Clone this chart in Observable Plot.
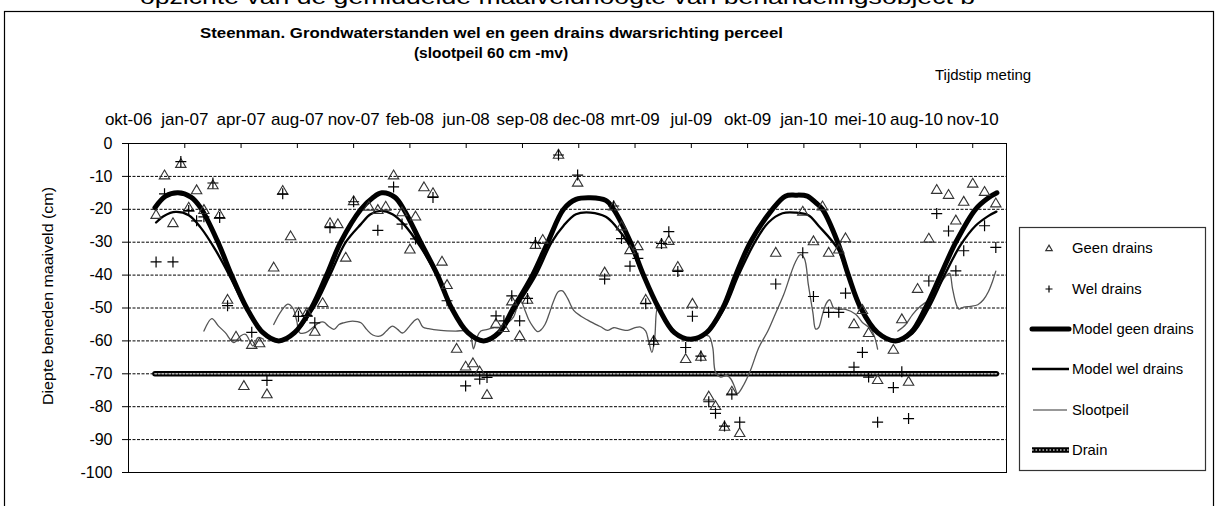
<!DOCTYPE html>
<html><head><meta charset="utf-8">
<script src="https://cdn.jsdelivr.net/npm/d3@7"></script>
<script src="https://cdn.jsdelivr.net/npm/@observablehq/plot@0.6"></script>
<style>
html,body{margin:0;padding:0;background:#fff;overflow:hidden;}
#wrap{position:relative;width:1219px;height:506px;font-family:"Liberation Sans",Arial,sans-serif;}
#wrap svg{position:absolute;left:0;top:0;}
</style></head><body><div id="wrap"></div>
<script>
// ---------- data ----------
const xDomain = ["2006-10-10", "2011-01-17"];
const tickDates = ["2006-10-10","2007-01-18","2007-04-28","2007-08-06","2007-11-14","2008-02-22","2008-06-01","2008-09-09","2008-12-18","2009-03-28","2009-07-06","2009-10-14","2010-01-22","2010-05-02","2010-08-10","2010-11-18"];
const tickLabels = ["okt-06","jan-07","apr-07","aug-07","nov-07","feb-08","jun-08","sep-08","dec-08","mrt-09","jul-09","okt-09","jan-10","mei-10","aug-10","nov-10"];
const yTicks = [0,-10,-20,-30,-40,-50,-60,-70,-80,-90,-100];
const gridValues = [-10,-20,-30,-40,-50,-60,-70,-80,-90];

const obsDates = ["2006-11-28","2006-12-13","2006-12-28","2007-01-11","2007-01-25","2007-02-08","2007-02-21","2007-03-09","2007-03-21","2007-04-04","2007-04-19","2007-05-03","2007-05-17","2007-05-31","2007-06-13","2007-06-25","2007-07-11","2007-07-25","2007-08-08","2007-08-23","2007-09-06","2007-09-20","2007-10-03","2007-10-17","2007-10-31","2007-11-14","2007-12-11","2007-12-27","2008-01-10","2008-01-24","2008-02-08","2008-02-22","2008-03-03","2008-03-18","2008-04-03","2008-04-19","2008-04-28","2008-05-15","2008-05-31","2008-06-13","2008-06-25","2008-07-08","2008-07-24","2008-08-07","2008-08-21","2008-09-04","2008-09-18","2008-10-02","2008-10-15","2008-11-12","2008-12-16","2009-02-02","2009-02-18","2009-03-04","2009-03-19","2009-04-02","2009-04-16","2009-04-30","2009-05-14","2009-05-27","2009-06-12","2009-06-26","2009-07-08","2009-07-23","2009-08-06","2009-08-18","2009-09-03","2009-09-16","2009-09-30","2009-12-03","2010-01-20","2010-02-08","2010-02-24","2010-03-07","2010-03-25","2010-04-06","2010-04-21","2010-05-06","2010-05-17","2010-06-02","2010-06-30","2010-07-15","2010-07-27","2010-08-12","2010-09-01","2010-09-15","2010-10-06","2010-10-19","2010-11-02","2010-11-18","2010-12-09","2010-12-29"];
const geenDrains = [-21.5,-9.5,-24,-6,-19.3,-14,-20,-12.5,-21.5,-47.3,-58.5,-73.5,-61,-60.5,-76,-37.5,-14.2,-28,-51.3,-51.3,-57,-48.3,-24,-24.3,-34.5,-17.3,-19,-20,-19,-9.5,-20.7,-32,-22,-13.1,-14.9,-35.7,-42.8,-62.2,-67.6,-66.6,-69.1,-76.2,-54.6,-55.9,-47.8,-58.3,-47.3,-30.6,-29.1,-3.2,-11.7,-39,-18.9,-25,-32.2,-31,-47.3,-59.8,-30.4,-29.4,-37.3,-65.3,-48.5,-64.6,-76.7,-79.6,-85.9,-75.2,-87.8,-33,-20.5,-29.5,-18.9,-33,-32,-28.6,-54.7,-50.4,-57.4,-71.7,-62.5,-53.2,-72.2,-44,-28.7,-13.9,-15.4,-23.2,-17.5,-12,-14.5,-18];
const welDrains = [-36,-15.3,-36,-5.5,-20.4,-23.5,-22.3,-12,-22.5,-49.3,null,null,-57.4,null,-72,null,-15.3,null,-52.5,-52.3,-54.5,null,-25.6,null,null,-17.7,null,-26.4,null,-13.2,-24.5,null,-29,null,-16.4,null,-47.8,null,-73.7,null,-71.6,-71.1,-52.4,-53.9,-46.3,-53.9,-47.1,-30.1,null,-3.5,-9.6,-41.2,-19,-28.9,-37.3,-34.9,-48.7,-60,-30.4,-26.8,-38.9,-62,-52.5,-64.6,-78.5,-82,-85.9,-76.2,-84.7,-42.7,-33.2,-46.5,null,-51.3,-51.3,-45.5,-68,-63.5,-71,-84.7,-74.2,-69.4,-83.6,null,-41.8,-21.3,-26.6,-38.7,-32.6,null,-25,-31.6];

const modelGeenDates = ["2006-11-26","2006-12-15","2007-01-06","2007-01-29","2007-02-15","2007-03-18","2007-04-11","2007-05-08","2007-06-06","2007-07-04","2007-08-01","2007-08-31","2007-09-27","2007-10-22","2007-11-27","2007-12-18","2008-01-03","2008-01-26","2008-02-11","2008-03-12","2008-04-11","2008-05-06","2008-06-04","2008-07-02","2008-07-29","2008-08-24","2008-09-27","2008-10-24","2008-11-21","2008-12-13","2009-01-08","2009-02-04","2009-02-18","2009-03-20","2009-04-12","2009-05-09","2009-06-06","2009-07-05","2009-08-02","2009-08-31","2009-09-23","2009-10-19","2009-11-27","2009-12-20","2010-01-07","2010-01-28","2010-02-12","2010-02-24","2010-03-23","2010-04-11","2010-05-03","2010-06-02","2010-07-04","2010-07-31","2010-08-26","2010-09-22","2010-10-19","2010-11-23","2010-12-16","2010-12-31"];
const modelGeen = [-19.5,-16,-15,-16.3,-19.5,-30,-40,-50,-57.5,-60,-57.5,-50,-40,-30,-20,-16.5,-15,-16.3,-20,-30,-40,-50,-57.5,-60,-57.5,-50,-40,-30,-20,-17,-16.5,-17.3,-20,-30,-40,-50,-57.5,-59.5,-57.5,-50,-40,-30,-20,-16,-15.7,-16,-18,-20,-30,-40,-50,-57.5,-60,-57.5,-50,-40,-30,-20,-16.5,-15];

const modelWelDates = ["2006-11-28","2006-12-12","2007-01-02","2007-01-25","2007-02-15","2007-03-14","2007-04-10","2007-05-08","2007-06-06","2007-07-04","2007-08-01","2007-09-04","2007-10-03","2007-10-31","2007-11-27","2007-12-14","2008-01-01","2008-01-22","2008-02-11","2008-03-12","2008-04-11","2008-05-06","2008-06-04","2008-07-02","2008-07-31","2008-08-28","2008-10-03","2008-10-31","2008-11-21","2008-12-13","2009-01-08","2009-02-04","2009-02-21","2009-03-20","2009-04-12","2009-05-09","2009-06-06","2009-07-05","2009-08-02","2009-09-03","2009-09-28","2009-10-27","2009-11-20","2009-12-15","2010-01-07","2010-01-30","2010-02-17","2010-03-23","2010-04-11","2010-05-03","2010-06-02","2010-07-04","2010-08-03","2010-09-01","2010-09-29","2010-10-27","2010-11-23","2010-12-16","2010-12-30"];
const modelWel = [-24,-22,-20.8,-21.8,-25.5,-32.5,-41,-50.5,-57.7,-60,-57.7,-50,-40,-30,-24.5,-21.5,-20.5,-21.5,-24.5,-31.5,-40.5,-50,-57.7,-60,-57.7,-50,-40,-30,-25,-21.5,-21,-22.3,-25,-31.5,-40.5,-50,-57.7,-59.5,-57.7,-50,-40,-30,-24,-21.2,-21,-21.8,-25,-32,-40.5,-50,-57.7,-60,-57.7,-50,-40,-31,-25,-22,-20.7];

const slootDates = ["2007-02-21","2007-03-07","2007-03-19","2007-03-31","2007-04-15","2007-04-27","2007-05-06","2007-05-19","2007-05-28","2007-06-07","2007-06-16","2007-06-25","2007-07-08","2007-07-20","2007-07-29","2007-08-05","2007-08-10","2007-08-21","2007-09-02","2007-09-13","2007-09-22","2007-09-30","2007-10-10","2007-10-19","2007-10-27","2007-11-12","2007-11-27","2007-12-07","2007-12-18","2008-01-01","2008-01-14","2008-01-22","2008-01-31","2008-02-09","2008-02-20","2008-02-29","2008-03-07","2008-03-16","2008-03-26","2008-04-17","2008-05-13","2008-06-02","2008-06-09","2008-06-14","2008-06-20","2008-06-27","2008-07-09","2008-07-20","2008-08-01","2008-08-14","2008-08-24","2008-08-31","2008-09-06","2008-09-13","2008-09-20","2008-09-27","2008-10-06","2008-10-11","2008-10-19","2008-10-26","2008-11-03","2008-11-12","2008-11-19","2008-11-28","2008-12-09","2008-12-22","2009-01-03","2009-01-17","2009-01-26","2009-02-07","2009-02-18","2009-03-03","2009-03-15","2009-03-28","2009-04-07","2009-04-16","2009-04-21","2009-04-27","2009-05-02","2009-05-07","2009-05-13","2009-05-30","2009-06-17","2009-07-05","2009-07-23","2009-08-06","2009-08-13","2009-08-18","2009-08-27","2009-09-07","2009-09-14","2009-09-21","2009-09-26","2009-10-05","2009-10-19","2009-11-03","2009-11-19","2009-12-03","2009-12-17","2009-12-30","2010-01-07","2010-01-16","2010-01-23","2010-01-30","2010-02-07","2010-02-12","2010-02-17","2010-02-24","2010-03-03","2010-03-09","2010-03-16","2010-03-25","2010-04-06","2010-04-24","2010-05-06","2010-05-21","2010-05-28","2010-06-02","2010-06-20","2010-07-08","2010-07-22","2010-08-03","2010-08-17","2010-08-30","2010-09-13","2010-09-24","2010-10-03","2010-10-08","2010-10-13","2010-10-19","2010-10-24","2010-11-02","2010-11-14","2010-11-27","2010-12-07","2010-12-16","2010-12-23","2010-12-29"];
const slootpeil = [-57,-53.2,-55.5,-57.5,-60.5,-58.5,-58,-61.5,-59,-59.5,null,-55,-51,-48.8,-50,-54,-57.5,-57.5,-56,-54.5,-54.3,-55.5,-56.5,-55,-54.5,-54,-54.5,-56.5,-58.2,-58.5,-56.5,-55.5,-56.5,-57.6,-55.8,-54,-53.3,-55.8,-56.3,-56.8,-57,-57,-58.5,-62.4,-59,-57,-56.5,-56,-56,-54.5,-52.8,-49.5,-48,-50.5,-53.5,-55.5,-57.2,-56.8,-55,-52,-48,-45,-44.8,-47,-50.7,-52.5,-53.7,-55,-55.7,-56.8,-56,-56.5,-56.8,-56,-55.8,-57,-60,-63.5,-59,-50,-51,-55.5,-58.5,-59,-58.5,-58.5,-62,-69.5,-71,-70.5,-71.5,-74,-76,-74,-69,-62,-57,-51.5,-46,-39.5,-36,-33.8,-35,-43,-51.4,-56.4,-56,-52,-48.5,-47.5,-50,-50.4,-50.4,-51.9,-54.4,-56.4,-59,-62.5,null,-57,-55,-52,-49.5,-47.8,-45.5,-42,-40,-39.5,-44,-48.5,-50.3,-49.7,-49.5,-49,-47.5,-45,-42,-38.8];

const drainDates = ["2006-11-26","2010-12-30"];
const drainLevel = [-70,-70];

const legendLabels = ["Geen drains","Wel drains","Model geen drains","Model wel drains","Slootpeil","Drain"];

// ---------- build ----------
const P = s => new Date(s + "T00:00:00Z");
const obs = obsDates.map((d,i) => ({date:P(d), geen:geenDrains[i], wel:welDrains[i]}));
const mGeen = modelGeenDates.map((d,i) => ({date:P(d), v:modelGeen[i]}));
const mWel = modelWelDates.map((d,i) => ({date:P(d), v:modelWel[i]}));
const sloot = slootDates.map((d,i) => ({date:P(d), v:slootpeil[i]}));
const drain = drainDates.map((d,i) => ({date:P(d), v:drainLevel[i]}));
const tickD = tickDates.map(P);

const triSym = {draw(ctx, size){ const r = Math.sqrt(size/Math.PI); ctx.moveTo(0,-r*0.9); ctx.lineTo(r, r*0.8); ctx.lineTo(-r, r*0.8); ctx.closePath(); }};
const plusSym = {draw(ctx, size){ const r = Math.sqrt(size/Math.PI); ctx.moveTo(-r,0); ctx.lineTo(r,0); ctx.moveTo(0,-r); ctx.lineTo(0,r); }};

const FONT = '"Liberation Sans", Arial, sans-serif';

const chart = Plot.plot({
  width: 1219, height: 506,
  marginLeft: 128, marginTop: 143, marginRight: 213, marginBottom: 34,
  style: {fontFamily: FONT, fontSize: "16px", color: "#000", background: "transparent", overflow: "visible"},
  x: {type: "utc", domain: xDomain.map(P)},
  y: {domain: [-100, 0]},
  marks: [
    Plot.ruleY(gridValues, {stroke: "#000", strokeWidth: 1, strokeDasharray: "3,1.5"}),
    Plot.axisX({anchor: "top", ticks: tickD, tickSize: -4, tickFormat: () => "", label: null}),
    Plot.axisX({anchor: "top", ticks: tickD, tickSize: 0, tickPadding: 19, fontSize: 17, label: null,
      tickFormat: d => tickLabels[tickD.findIndex(t => +t === +d)]}),
    Plot.axisY({anchor: "left", ticks: yTicks, tickSize: 6, tickPadding: 10, fontSize: 16, label: null,
      tickFormat: d => String(d)}),
    Plot.line(drain, {x: "date", y: "v", stroke: "#000", strokeWidth: 5.5}),
    Plot.line(drain, {x: "date", y: "v", stroke: "#b8b8b8", strokeWidth: 1.6, strokeDasharray: "1.6,1.9"}),
    Plot.line(sloot, {x: "date", y: "v", stroke: "#555", strokeWidth: 1.3, curve: "catmull-rom"}),
    Plot.line(mWel, {x: "date", y: "v", stroke: "#000", strokeWidth: 2.3, curve: "catmull-rom"}),
    Plot.line(mGeen, {x: "date", y: "v", stroke: "#000", strokeWidth: 5, curve: "catmull-rom"}),
    Plot.dot(obs.filter(d => d.geen != null), {x: "date", y: "geen", symbol: triSym, r: 5.2, fill: "none", stroke: "#333", strokeWidth: 1.1}),
    Plot.dot(obs.filter(d => d.wel != null), {x: "date", y: "wel", symbol: plusSym, r: 5.5, fill: "none", stroke: "#000", strokeWidth: 1.2}),
    Plot.frame({stroke: "#000", strokeWidth: 1})
  ]
});
document.getElementById("wrap").appendChild(chart);

// ---------- overlay: frame, titles, legend ----------
const ov = d3.select("#wrap").append("svg").attr("width", 1219).attr("height", 506)
  .style("font-family", FONT);

ov.append("rect").attr("x", 4.5).attr("y", 11.5).attr("width", 1209).attr("height", 600)
  .attr("fill", "none").attr("stroke", "#000").attr("stroke-width", 1.2);

ov.append("text").attr("x", 140).attr("y", 4).attr("font-size", 20).attr("textLength", 835)
  .attr("lengthAdjust", "spacingAndGlyphs").attr("fill", "#000")
  .text("opzichte van de gemiddelde maaiveldhoogte van behandelingsobject b");

ov.append("text").attr("x", 200).attr("y", 38).attr("font-size", 15.5).attr("font-weight", "bold")
  .attr("textLength", 583).attr("lengthAdjust", "spacingAndGlyphs").attr("fill", "#000")
  .text("Steenman. Grondwaterstanden wel en geen drains dwarsrichting perceel");
ov.append("text").attr("x", 491).attr("y", 58).attr("font-size", 15.5).attr("font-weight", "bold")
  .attr("text-anchor", "middle").attr("fill", "#000").text("(slootpeil 60 cm -mv)");

ov.append("text").attr("x", 935).attr("y", 80).attr("font-size", 15).attr("fill", "#000")
  .text("Tijdstip meting");

ov.append("text").attr("transform", "translate(53,296) rotate(-90)").attr("font-size", 15.5)
  .attr("text-anchor", "middle").attr("textLength", 218).attr("lengthAdjust", "spacingAndGlyphs")
  .attr("fill", "#000").text("Diepte beneden maaiveld (cm)");

// legend
ov.append("rect").attr("x", 1019.5).attr("y", 227.5).attr("width", 186).attr("height", 243)
  .attr("fill", "#fff").attr("stroke", "#333").attr("stroke-width", 1.2);
const ly = [248, 289, 329, 369, 410, 450];
const sym = (s, size) => d3.symbol().type(s).size(size)();
ov.append("path").attr("d", sym(triSym, Math.PI * 3.2 * 3.2)).attr("transform", `translate(1049,${ly[0]})`)
  .attr("fill", "none").attr("stroke", "#333").attr("stroke-width", 1.2);
ov.append("path").attr("d", sym(plusSym, Math.PI * 3.5 * 3.5)).attr("transform", `translate(1049,${ly[1]})`)
  .attr("fill", "none").attr("stroke", "#000").attr("stroke-width", 1.2);
ov.append("line").attr("x1", 1032).attr("x2", 1069).attr("y1", ly[2]).attr("y2", ly[2]).attr("stroke", "#000").attr("stroke-width", 5).attr("stroke-linecap", "round");
ov.append("line").attr("x1", 1032).attr("x2", 1069).attr("y1", ly[3]).attr("y2", ly[3]).attr("stroke", "#000").attr("stroke-width", 2.3);
ov.append("line").attr("x1", 1033).attr("x2", 1067).attr("y1", ly[4]).attr("y2", ly[4]).attr("stroke", "#333").attr("stroke-width", 1.2);
ov.append("line").attr("x1", 1032).attr("x2", 1069).attr("y1", ly[5]).attr("y2", ly[5]).attr("stroke", "#000").attr("stroke-width", 5.5);
ov.append("line").attr("x1", 1032).attr("x2", 1069).attr("y1", ly[5]).attr("y2", ly[5]).attr("stroke", "#b8b8b8").attr("stroke-width", 1.6).attr("stroke-dasharray", "1.6,1.9");
legendLabels.forEach((t, i) => {
  ov.append("text").attr("x", 1072).attr("y", ly[i] + 5.3).attr("font-size", 14.8).attr("fill", "#000").text(t);
});
</script>
</body></html>
